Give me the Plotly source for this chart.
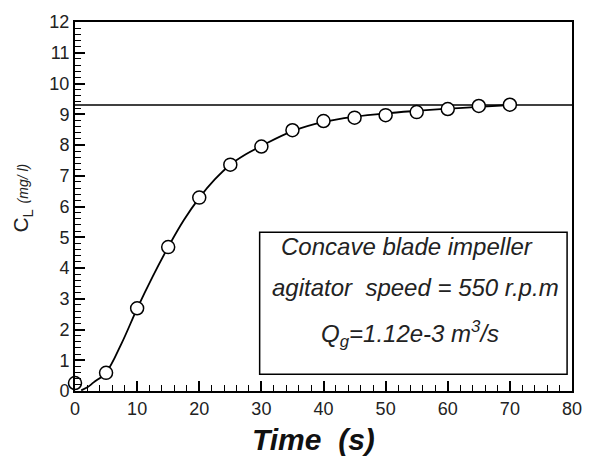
import plotly.graph_objects as go

# measured data (time s, C_L mg/l)
time_pts = [0, 5, 10, 15, 20, 25, 30, 35, 40, 45, 50, 55, 60, 65, 70]
conc_pts = [0.26, 0.59, 2.69, 4.68, 6.29, 7.36, 7.95, 8.48, 8.78, 8.89, 8.97, 9.07, 9.17, 9.27, 9.31]

# fitted curve
time_fit = [1, 2, 3, 5, 7.5, 10, 12.5, 15, 17.5, 20, 22.5, 25, 27.5, 30, 35, 40, 45, 50, 55, 60, 65, 70]
conc_fit = [0.02, 0.12, 0.28, 0.6, 1.55, 2.68, 3.72, 4.68, 5.55, 6.28, 6.88, 7.36, 7.7, 7.97, 8.45,
            8.75, 8.92, 9.03, 9.11, 9.18, 9.24, 9.3]

# saturation line
sat_x = [0, 80]
sat_value = 9.3

FONT = "Liberation Sans, Arial, sans-serif"

fig = go.Figure()
fig.add_trace(go.Scatter(x=sat_x, y=[sat_value, sat_value], mode="lines",
                         line=dict(color="black", width=1.5), showlegend=False, hoverinfo="skip"))
fig.add_trace(go.Scatter(x=time_fit, y=conc_fit, mode="lines", line_shape="spline",
                         line=dict(color="black", width=1.8), showlegend=False))
fig.add_trace(go.Scatter(x=time_pts, y=conc_pts, mode="markers",
                         marker=dict(symbol="circle", size=13, color="white",
                                     line=dict(color="black", width=1.5)),
                         showlegend=False, cliponaxis=False))

axis_common = dict(showgrid=False, zeroline=False, showline=True, linecolor="black", linewidth=2,
                   mirror=True, ticks="inside", tickcolor="black", tickwidth=1.5, ticklen=10,
                   tickfont=dict(family=FONT, size=18, color="#222"))

fig.update_xaxes(range=[0, 80], dtick=10, tick0=0,
                 minor=dict(ticks="inside", dtick=2, ticklen=6, tickcolor="black", tickwidth=1.2),
                 **axis_common)
fig.update_yaxes(range=[0, 12], dtick=1, tick0=0,
                 minor=dict(ticks="inside", dtick=0.2, ticklen=6, tickcolor="black", tickwidth=1.2),
                 **axis_common)

L, R, T, B = 75, 13, 17, 75
W, H = 594, 466
pw, ph = W - L - R, H - T - B

def px(x):
    return (x - L) / pw

def py(y):
    return (H - B - y) / ph

# text box
fig.add_shape(type="rect", xref="paper", yref="paper",
              x0=px(263), x1=px(576), y0=py(374), y1=py(230),
              line=dict(color="black", width=1.5), fillcolor="white")

box_font = dict(family=FONT, size=24, color="#222")
def label(xc, yc, text, font, **kw):
    fig.add_annotation(xref="paper", yref="paper", x=px(xc), y=py(yc), showarrow=False,
                       xanchor="center", yanchor="middle", text=text, font=font, **kw)

label(413, 245, "<i>Concave blade impeller</i>", box_font)
label(422, 286, "<i>agitator\u00a0\u00a0speed = 550 r.p.m</i>", box_font)
label(416, 333, "<i>Q<sub>g</sub>=1.12e-3 m<sup>3</sup>/s</i>", box_font)

# axis titles
label(318, 440, "<b><i>Time\u00a0\u00a0(s)</i></b>", dict(family=FONT, size=30, color="#111"))
label(21, 195, "C<sub>L</sub> <span style='font-size:14px'><i>(mg/ l)</i></span>",
      dict(family=FONT, size=21, color="#222"), textangle=-90)

fig.update_layout(width=W, height=H, margin=dict(l=L, r=R, t=T, b=B),
                  plot_bgcolor="white", paper_bgcolor="white", showlegend=False)

fig.write_html("out.html")
